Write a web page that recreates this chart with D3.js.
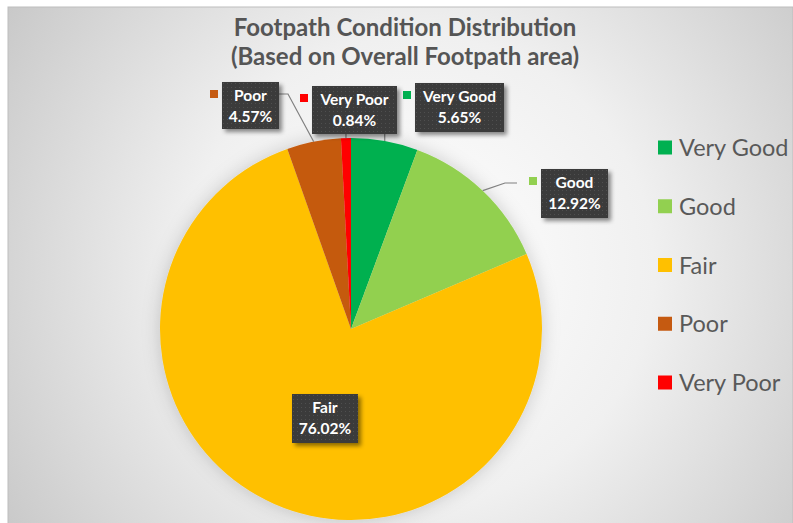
<!DOCTYPE html>
<html>
<head>
<meta charset="utf-8">
<script src="https://cdn.jsdelivr.net/npm/d3@7"></script>
<style>
  body { margin: 0; background: #fff; }
  svg { display: block; }
</style>
</head>
<body>
<script>
// data
const categories = ["Very Good", "Good", "Fair", "Poor", "Very Poor"];
const values = [5.65, 12.92, 76.02, 4.57, 0.84];
const colors = ["#00b050", "#92d050", "#ffc000", "#c55a11", "#ff0000"];
const titleLines = ["Footpath Condition Distribution", "(Based on Overall Footpath area)"];

const WIDTH = 793, HEIGHT = 523;
const CX = 351, CY = 329, R = 191;
const FONT = "Lato, 'Open Sans', sans-serif";

// label box layout (centre x, centre y, width, height), same order as categories
const labelBoxes = [
  [459.5, 107.5, 89, 49],
  [574.5, 193.5, 67, 49],
  [325, 418.5, 66, 49],
  [250.5, 105.5, 57, 47],
  [354.5, 110, 85, 48]
];

const svg = d3.select("body").append("svg")
  .attr("width", WIDTH)
  .attr("height", HEIGHT);

const defs = svg.append("defs");

const bg = defs.append("radialGradient")
  .attr("id", "bg")
  .attr("gradientUnits", "userSpaceOnUse")
  .attr("cx", 420).attr("cy", 270).attr("r", 520);
bg.append("stop").attr("offset", "0%").attr("stop-color", "#ffffff");
bg.append("stop").attr("offset", "45%").attr("stop-color", "#f0f0f0");
bg.append("stop").attr("offset", "100%").attr("stop-color", "#c4c4c4");

const dots = defs.append("pattern")
  .attr("id", "dots")
  .attr("patternUnits", "userSpaceOnUse")
  .attr("width", 4).attr("height", 4);
dots.append("rect").attr("width", 4).attr("height", 4).attr("fill", "#3b3b3b");
dots.append("rect").attr("x", 1).attr("y", 1).attr("width", 1).attr("height", 1).attr("fill", "#505050");

const boxShadow = defs.append("filter").attr("id", "boxShadow")
  .attr("x", "-20%").attr("y", "-20%").attr("width", "150%").attr("height", "160%");
boxShadow.append("feDropShadow")
  .attr("dx", 3).attr("dy", 3).attr("stdDeviation", 2)
  .attr("flood-color", "#000").attr("flood-opacity", 0.45);

const pieShadow = defs.append("filter").attr("id", "pieShadow")
  .attr("x", "-20%").attr("y", "-20%").attr("width", "140%").attr("height", "140%");
pieShadow.append("feDropShadow")
  .attr("dx", 0).attr("dy", 0).attr("stdDeviation", 9)
  .attr("flood-color", "#000").attr("flood-opacity", 0.18);

// chart area
svg.append("rect")
  .attr("x", 8).attr("y", 7)
  .attr("width", WIDTH - 8).attr("height", HEIGHT)
  .attr("fill", "url(#bg)")
  .attr("stroke", "#bdbdbd")
  .attr("stroke-width", 1);

// title
svg.append("g").selectAll("text")
  .data(titleLines)
  .join("text")
  .attr("x", 405)
  .attr("y", (d, i) => 36 + i * 29)
  .attr("text-anchor", "middle")
  .attr("font-family", FONT)
  .attr("font-weight", "bold")
  .attr("font-size", 24)
  .attr("fill", "#555555")
  .text(d => d);

// pie
const pie = d3.pie().sort(null).value(d => d.value);
const arcs = pie(categories.map((c, i) => ({ name: c, value: values[i], color: colors[i], box: labelBoxes[i] })));
const arc = d3.arc().innerRadius(0).outerRadius(R);

const pieG = svg.append("g")
  .attr("transform", `translate(${CX},${CY})`)
  .attr("filter", "url(#pieShadow)");

pieG.selectAll("path")
  .data(arcs)
  .join("path")
  .attr("d", arc)
  .attr("fill", d => d.data.color);

// leader lines
function edgePoint(d) {
  const a = (d.startAngle + d.endAngle) / 2;
  return [CX + R * Math.sin(a), CY - R * Math.cos(a)];
}

const leaders = svg.append("g")
  .attr("fill", "none")
  .attr("stroke", "#808080")
  .attr("stroke-width", 1.2);

arcs.forEach(d => {
  const [bx, by, bw, bh] = d.data.box;
  const [px, py] = edgePoint(d);
  const left = bx - bw / 2, right = bx + bw / 2, top = by - bh / 2, bottom = by + bh / 2;
  let pts = null;
  if (d.data.name === "Poor") {
    pts = [[right, top + 12], [right + 9, top + 12], [px, py]];
  } else if (d.data.name === "Very Poor" || d.data.name === "Very Good") {
    pts = [[px, bottom], [px, py]];
  } else if (d.data.name === "Good") {
    pts = [[px, py], [left - 36, top + 14], [left - 24, top + 14]];
  }
  if (pts) leaders.append("path").attr("d", d3.line()(pts));
});

// data labels
const labels = svg.append("g").selectAll("g")
  .data(arcs)
  .join("g")
  .attr("transform", d => `translate(${d.data.box[0] - d.data.box[2] / 2},${d.data.box[1] - d.data.box[3] / 2})`);

labels.append("rect")
  .attr("width", d => d.data.box[2])
  .attr("height", d => d.data.box[3])
  .attr("fill", "url(#dots)")
  .attr("filter", "url(#boxShadow)");

labels.append("rect")
  .attr("x", -12).attr("y", 8)
  .attr("width", 8).attr("height", 8)
  .attr("fill", d => d.data.color);

labels.append("text")
  .attr("x", d => d.data.box[2] / 2)
  .attr("y", 19)
  .attr("text-anchor", "middle")
  .attr("font-family", FONT)
  .attr("font-weight", "bold")
  .attr("font-size", 15.5)
  .attr("fill", "#ffffff")
  .text(d => d.data.name);

labels.append("text")
  .attr("x", d => d.data.box[2] / 2)
  .attr("y", 39.5)
  .attr("text-anchor", "middle")
  .attr("font-family", FONT)
  .attr("font-weight", "bold")
  .attr("font-size", 15.5)
  .attr("fill", "#ffffff")
  .text(d => d.data.value.toFixed(2) + "%");

// legend
const legendY = d3.scalePoint().domain(categories).range([148, 383]);

const legend = svg.append("g").selectAll("g")
  .data(categories)
  .join("g")
  .attr("transform", d => `translate(658,${legendY(d)})`);

legend.append("rect")
  .attr("x", 0).attr("y", -7.5)
  .attr("width", 14).attr("height", 14)
  .attr("fill", (d, i) => colors[i]);

legend.append("text")
  .attr("x", 21)
  .attr("y", 0)
  .attr("dy", "0.35em")
  .attr("font-family", FONT)
  .attr("font-size", 23.5)
  .attr("fill", "#595959")
  .text(d => d);
</script>
</body>
</html>
